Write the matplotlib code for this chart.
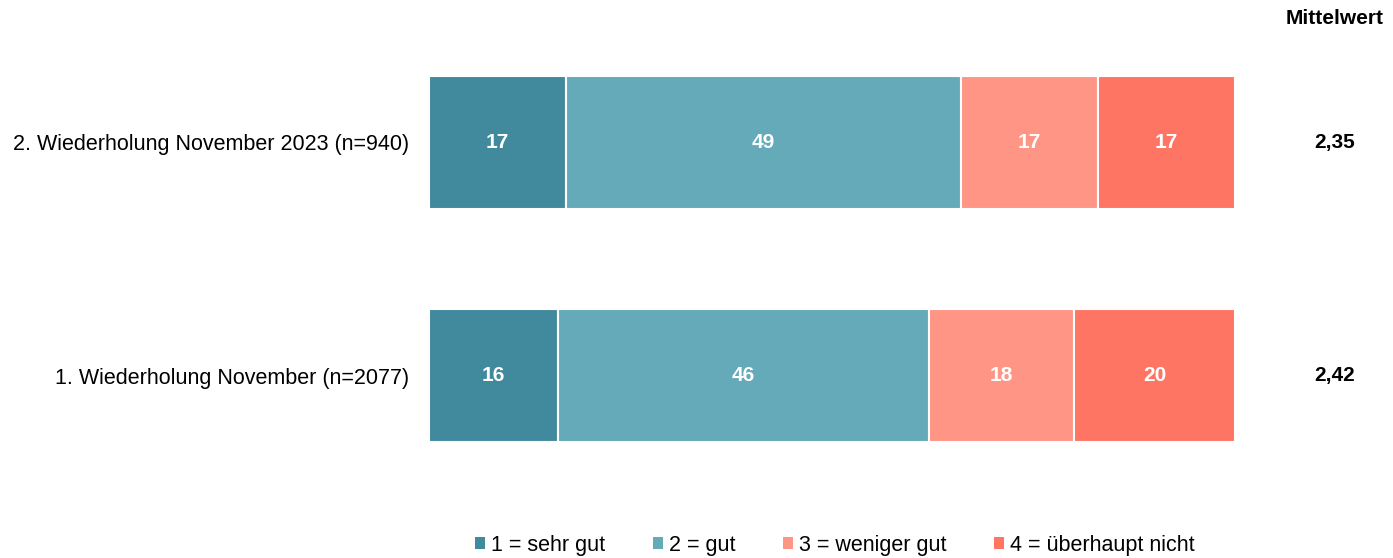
import matplotlib.pyplot as plt
from matplotlib.patches import Patch

plt.rcParams['font.family'] = ['Liberation Sans', 'DejaVu Sans']

# Data
groups = ['1. Wiederholung November (n=2077)', '2. Wiederholung November 2023 (n=940)']
categories = ['1 = sehr gut', '2 = gut', '3 = weniger gut', '4 = überhaupt nicht']
values = [
    [16, 46, 18, 20],   # 1. Wiederholung
    [17, 49, 17, 17],   # 2. Wiederholung
]
means = ['2,42', '2,35']
colors = ['#418A9D', '#64AAB9', '#FF9685', '#FF7563']

fig = plt.figure(figsize=(13.93, 5.58), dpi=100)
ax = fig.add_axes([429 / 1393, 116 / 558, 806 / 1393, 366 / 558])

y = list(range(len(groups)))
for i, vals in enumerate(values):
    left = 0
    for j, v in enumerate(vals):
        ax.barh(y[i], v, left=left, height=0.57, color=colors[j],
                edgecolor='white', linewidth=1.5)
        ax.text(left + v / 2, y[i], str(v), ha='center', va='center',
                color='white', fontsize=15, fontweight='bold')
        left += v

ax.set_xlim(0, 100)
ax.set_ylim(-0.285, 1.285)
ax.set_yticks(y)
ax.set_yticklabels(groups, fontsize=15.5)
ax.tick_params(axis='y', length=0, pad=14)
ax.set_xticks([])
for s in ax.spines.values():
    s.set_visible(False)

# Mittelwert column
tr = ax.get_yaxis_transform()
for i, m in enumerate(means):
    ax.text(1.124, y[i], m, transform=tr, ha='center', va='center',
            fontsize=15, fontweight='bold')
fig.text(1335 / 1393, 1 - 18 / 558, 'Mittelwert', ha='center', va='center',
         fontsize=15, fontweight='bold')

handles = [Patch(facecolor=c, edgecolor='none') for c in colors]
fig.legend(handles, categories, loc='center', bbox_to_anchor=(835 / 1393, 1 - 545 / 558),
           ncol=4, frameon=False, fontsize=15.5, handlelength=0.45, handleheight=0.45,
           handletextpad=0.3, columnspacing=2.2, borderpad=0)

fig.savefig('out.png', dpi=100)
